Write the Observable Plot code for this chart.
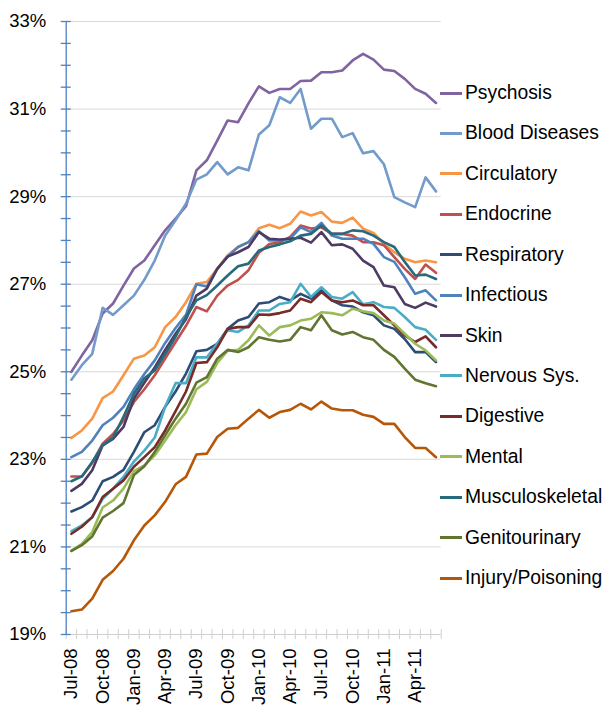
<!DOCTYPE html>
<html><head><meta charset="utf-8">
<script src="https://cdn.jsdelivr.net/npm/d3@7"></script>
<script src="https://cdn.jsdelivr.net/npm/@observablehq/plot@0.6"></script>
<style>
body{margin:0;background:#fff;}
#wrap{position:relative;width:607px;height:706px;font-family:"Liberation Sans",Arial,sans-serif;}
#legend{position:absolute;left:440px;top:0;width:167px;height:706px;}
.item{position:absolute;left:0;height:22px;display:flex;align-items:center;white-space:nowrap;font-size:19.3px;color:#000;}
.sw{width:22px;height:3px;margin-right:3px;flex:none;}
</style></head><body><div id="wrap"><div id="legend"></div></div>
<script>
const months = ["Jul-08","Aug-08","Sep-08","Oct-08","Nov-08","Dec-08","Jan-09","Feb-09","Mar-09","Apr-09","May-09","Jun-09",
  "Jul-09","Aug-09","Sep-09","Oct-09","Nov-09","Dec-09","Jan-10","Feb-10","Mar-10","Apr-10","May-10","Jun-10",
  "Jul-10","Aug-10","Sep-10","Oct-10","Nov-10","Dec-10","Jan-11","Feb-11","Mar-11","Apr-11","May-11","Jun-11"];
const xLabelIdx = [0,3,6,9,12,15,18,21,24,27,30,33];
const yTicks = [19,21,23,25,27,29,31,33];
const seriesNames = ["Psychosis","Blood Diseases","Circulatory","Endocrine","Respiratory","Infectious","Skin",
  "Nervous Sys.","Digestive","Mental","Musculoskeletal","Genitourinary","Injury/Poisoning"];
const seriesColors = ["#8064A2","#729ACA","#F79646","#C0504D","#2C4D75","#4F81BD","#4D3B62",
  "#4BACC6","#772C2A","#9BBB59","#276A7C","#5F7530","#B65708"];

const psychosis = [25.0,25.37,25.72,26.33,26.56,26.97,27.36,27.54,27.89,28.23,28.5,28.78,29.6,29.83,30.28,30.74,30.7,31.13,31.52,31.37,31.46,31.46,31.64,31.65,31.84,31.84,31.88,32.11,32.26,32.13,31.9,31.87,31.69,31.46,31.35,31.14];
const blood = [24.82,25.15,25.41,26.46,26.3,26.52,26.74,27.1,27.54,28.11,28.46,28.84,29.39,29.51,29.79,29.51,29.67,29.6,30.42,30.63,31.27,31.14,31.46,30.55,30.78,30.78,30.36,30.45,29.99,30.04,29.74,28.99,28.87,28.76,29.44,29.12];
const circulatory = [23.49,23.66,23.93,24.4,24.55,24.92,25.3,25.37,25.56,26.02,26.25,26.59,27.01,27.05,27.35,27.66,27.85,27.96,28.28,28.36,28.28,28.38,28.66,28.57,28.65,28.43,28.4,28.52,28.27,28.17,27.92,27.73,27.58,27.5,27.54,27.5];
const endocrine = [22.61,22.61,22.92,23.36,23.58,23.89,24.31,24.6,24.92,25.3,25.68,26.05,26.48,26.38,26.74,26.97,27.1,27.32,27.72,27.92,27.96,28.08,28.34,28.27,28.3,28.15,28.15,28.11,27.96,27.96,27.89,27.62,27.35,27.12,27.45,27.26];
const respiratory = [21.81,21.91,22.06,22.5,22.6,22.76,23.17,23.62,23.78,24.2,24.55,24.96,25.47,25.5,25.64,25.98,26.17,26.25,26.56,26.59,26.71,26.63,26.78,26.67,26.86,26.63,26.52,26.49,26.36,26.29,26.06,25.98,25.75,25.45,25.45,25.22];
const infectious = [23.05,23.17,23.43,23.78,23.95,24.2,24.6,24.95,25.26,25.66,26.0,26.3,27.0,26.95,27.35,27.63,27.85,27.96,28.21,28.0,28.0,28.04,28.3,28.19,28.4,28.11,28.04,28.04,28.04,27.92,27.62,27.51,27.16,26.78,26.86,26.63];
const skin = [22.28,22.44,22.75,23.32,23.47,23.74,24.39,24.75,25.1,25.5,25.87,26.2,26.74,26.9,27.35,27.63,27.73,27.85,28.19,28.04,28.02,28.04,28.06,27.95,28.19,27.89,27.91,27.81,27.54,27.39,26.97,26.93,26.55,26.46,26.58,26.49];
const nervous = [21.36,21.49,21.68,22.1,22.33,22.6,22.95,23.2,23.5,24.2,24.74,24.74,25.33,25.33,25.64,25.95,25.91,26.06,26.4,26.4,26.55,26.59,27.01,26.71,26.93,26.71,26.67,26.82,26.54,26.59,26.48,26.46,26.25,26.02,25.96,25.73];
const digestive = [21.3,21.46,21.68,22.14,22.33,22.52,22.83,23.05,23.28,23.66,24.1,24.55,25.2,25.22,25.56,25.98,26.02,26.02,26.31,26.3,26.34,26.4,26.67,26.59,26.82,26.63,26.59,26.63,26.52,26.52,26.29,26.06,25.83,25.68,25.81,25.56];
const mental = [20.91,21.07,21.34,21.9,22.06,22.33,22.73,22.86,23.09,23.43,23.78,24.08,24.6,24.77,25.2,25.48,25.5,25.72,26.06,25.83,26.02,26.06,26.17,26.21,26.36,26.34,26.29,26.44,26.38,26.34,26.17,26.1,25.87,25.64,25.49,25.26];
const musculoskeletal = [22.5,22.61,22.94,23.32,23.5,23.97,24.5,24.85,25.03,25.4,25.8,26.25,26.63,26.75,26.97,27.2,27.41,27.47,27.77,27.85,27.91,27.98,28.11,28.15,28.34,28.15,28.15,28.23,28.21,28.11,27.96,27.85,27.51,27.2,27.22,27.12];
const genitourinary = [20.91,21.04,21.24,21.67,21.82,22.0,22.64,22.84,23.17,23.55,23.93,24.27,24.75,24.88,25.3,25.5,25.45,25.56,25.79,25.73,25.69,25.73,26.02,25.95,26.29,25.95,25.85,25.91,25.79,25.73,25.5,25.34,25.07,24.82,24.74,24.67];
const injury = [19.53,19.57,19.82,20.25,20.45,20.73,21.15,21.49,21.72,22.03,22.43,22.6,23.11,23.13,23.51,23.7,23.72,23.93,24.13,23.95,24.08,24.13,24.27,24.14,24.32,24.16,24.12,24.12,24.02,23.97,23.81,23.81,23.51,23.26,23.26,23.05];

const seriesValues = [psychosis,blood,circulatory,endocrine,respiratory,infectious,skin,nervous,digestive,mental,musculoskeletal,genitourinary,injury];
const data = [];
seriesNames.forEach((name,k) => seriesValues[k].forEach((v,i) => data.push({series:name, i, v})));

const boundaries = d3.range(-0.5, months.length, 1);
const minorTicks = d3.range(19, 33.01, 0.5);
const font = '"Liberation Sans", Arial, sans-serif';

const chart = Plot.plot({
  width: 607, height: 706,
  marginLeft: 65.7, marginRight: 166.3, marginTop: 21, marginBottom: 72,
  style: {fontFamily: font, fontSize: "18px", color: "#000", background: "#fff", overflow: "visible"},
  x: {domain: [-0.5, months.length - 0.5], axis: null},
  y: {domain: [19, 33], axis: null},
  color: {domain: seriesNames, range: seriesColors},
  marks: [
    Plot.ruleY(yTicks.slice(1), {stroke: "#d9d9d9", strokeWidth: 1}),
    Plot.ruleY([19], {stroke: "#d0d0d0", strokeWidth: 1}),
    Plot.axisX(boundaries, {tickSize: 10, dy: -5, tickFormat: () => "", stroke: "#d0d0d0", label: null}),
    Plot.axisX(xLabelIdx, {tickSize: 0, tickPadding: 14, tickRotate: -90, tickFormat: i => months[i], fontSize: 18.5, label: null}),
    Plot.axisY(yTicks, {tickSize: 0, tickPadding: 20, tickFormat: d => d + "%", fontSize: 18.5, label: null}),
    Plot.line(data, {x: "i", y: "v", z: "series", stroke: "series", strokeWidth: 2.6, strokeLinejoin: "round"}),
    Plot.ruleX([-0.5], {stroke: "#4F81BD", strokeWidth: 1.3}),
    Plot.axisY(minorTicks, {tickSize: 10, dx: 5, tickFormat: () => "", stroke: "#4F81BD", strokeWidth: 1.3, label: null})
  ]
});
document.getElementById("wrap").prepend(chart);

const legend = document.getElementById("legend");
seriesNames.forEach((name, k) => {
  const it = document.createElement("div");
  it.className = "item";
  it.style.top = (93 + 40.42 * k - 11) + "px";
  const sw = document.createElement("span");
  sw.className = "sw";
  sw.style.background = seriesColors[k];
  const t = document.createElement("span");
  t.textContent = name;
  it.appendChild(sw); it.appendChild(t);
  legend.appendChild(it);
});
</script></body></html>
